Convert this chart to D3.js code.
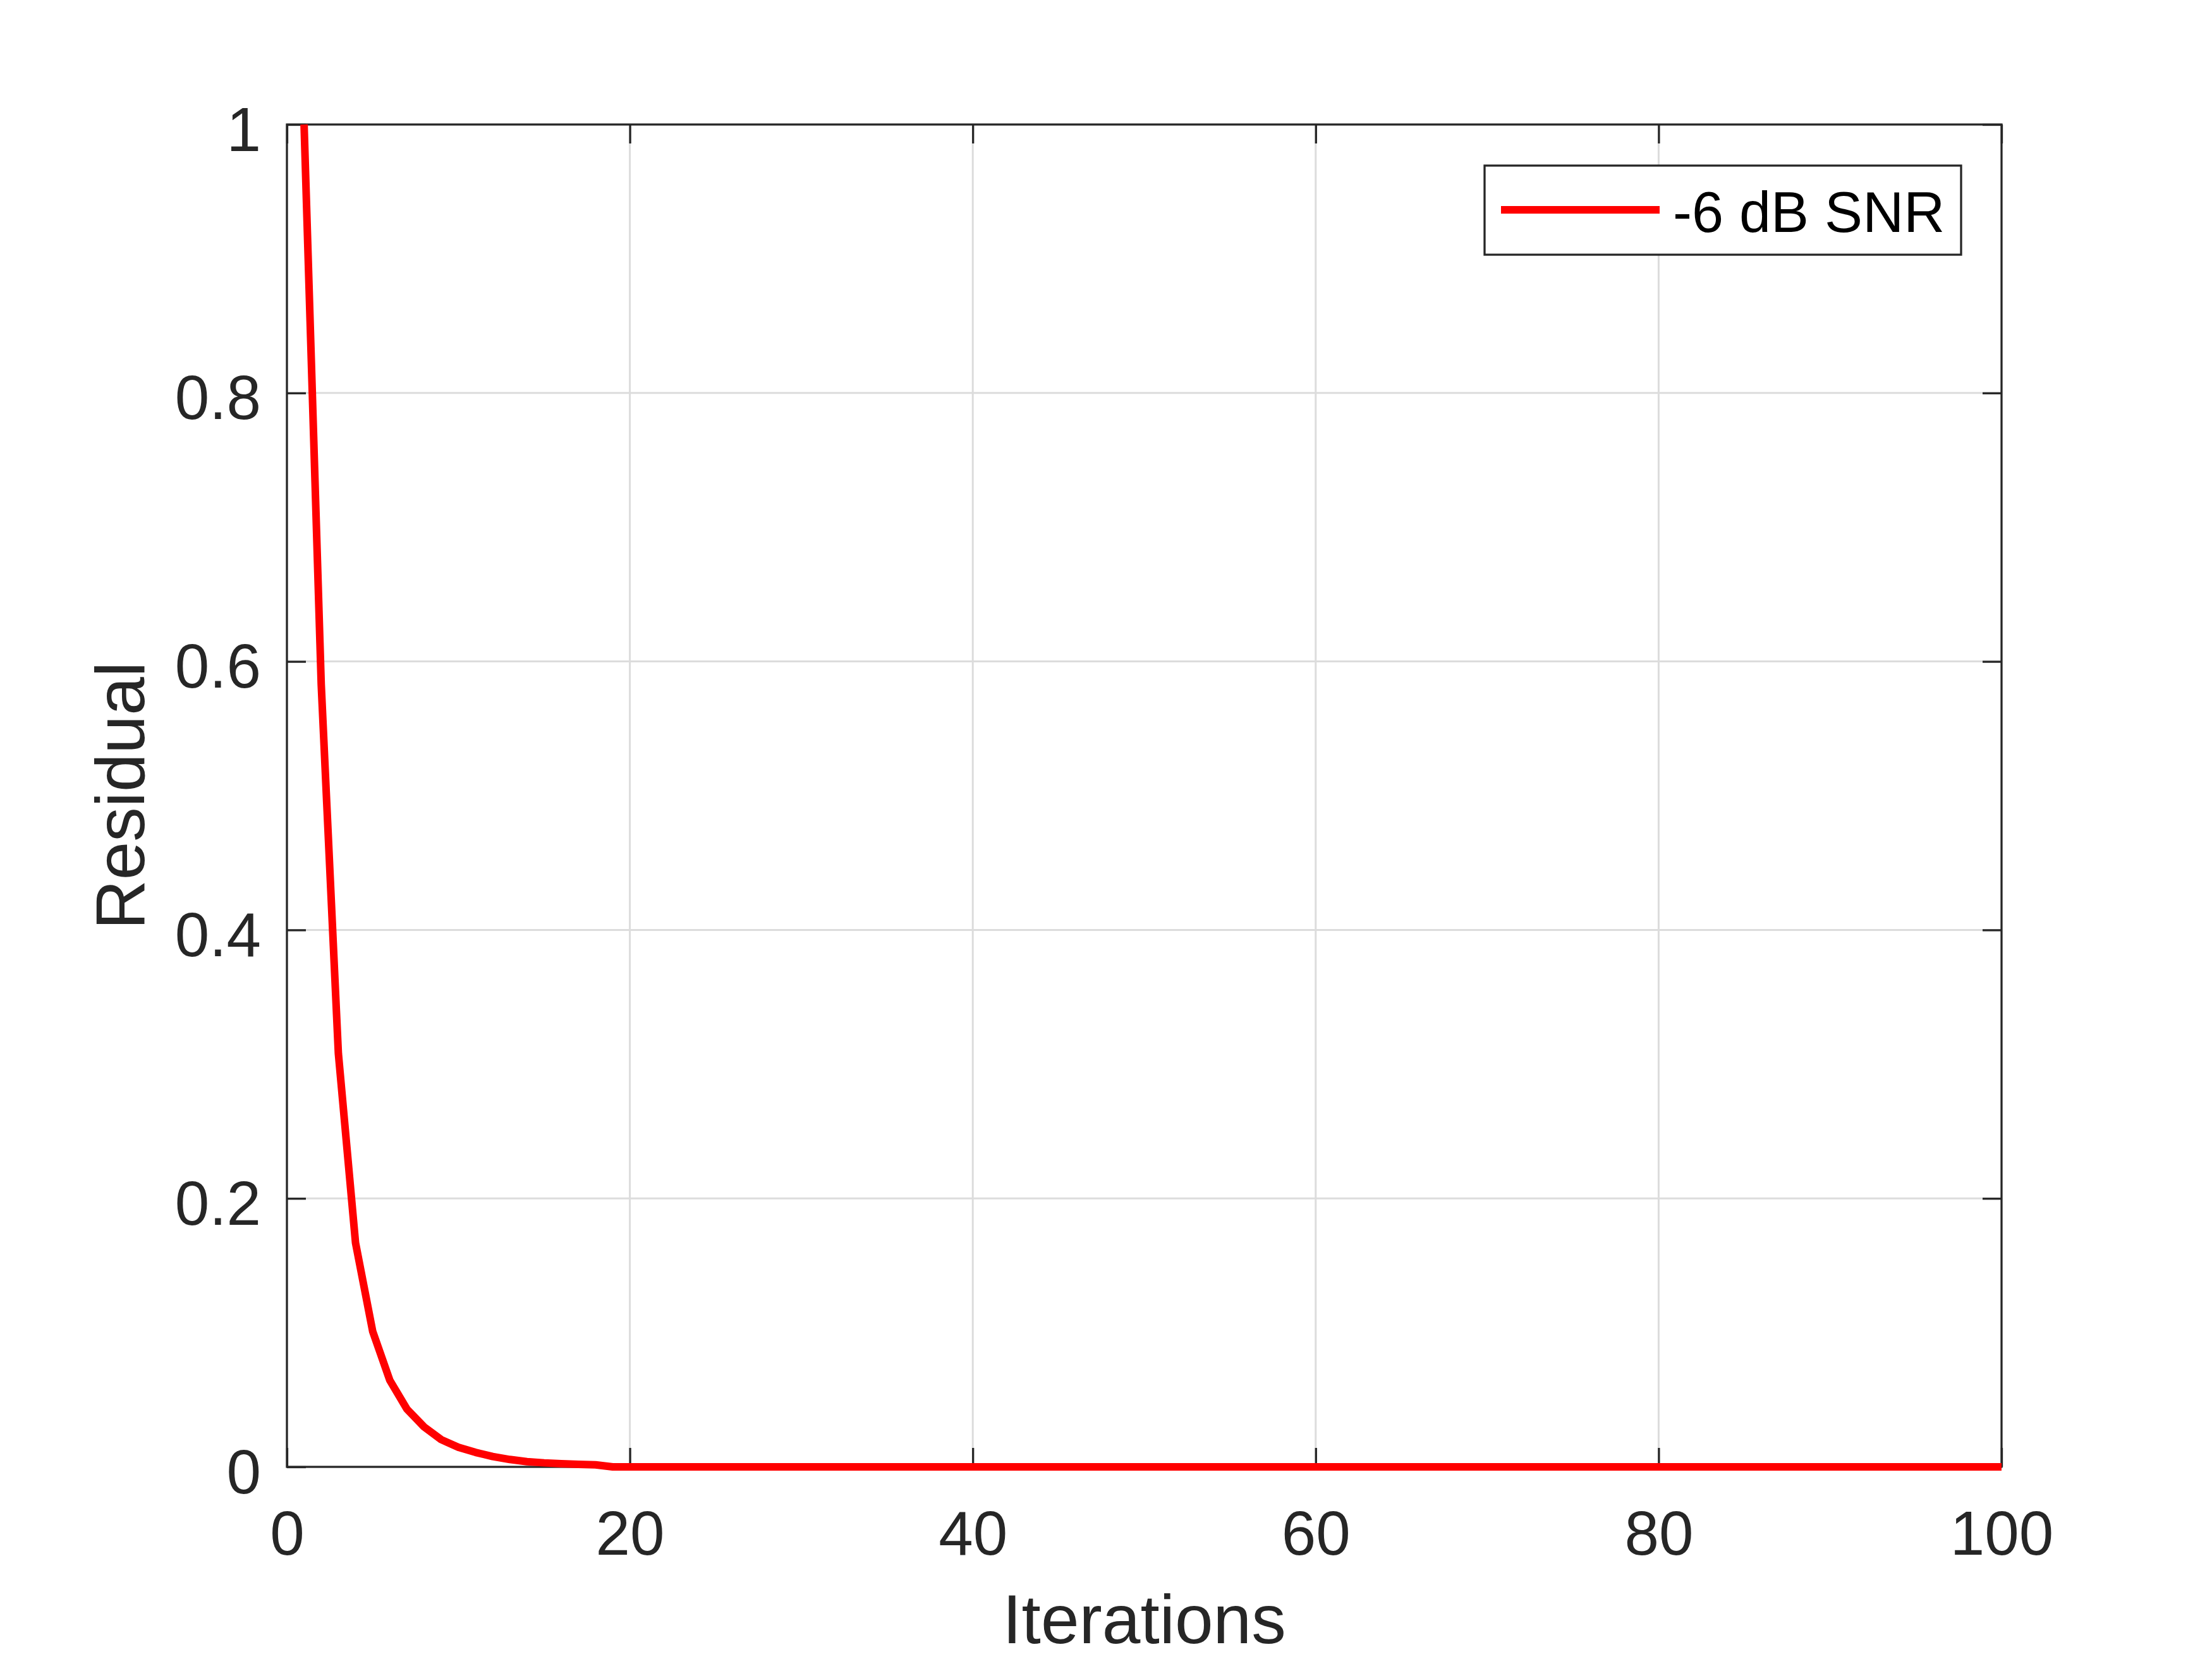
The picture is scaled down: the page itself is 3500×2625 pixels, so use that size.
<!DOCTYPE html>
<html>
<head>
<meta charset="utf-8">
<script src="https://cdn.jsdelivr.net/npm/d3@7"></script>
<style>
  html, body { margin: 0; padding: 0; background: #fff; }
  text { font-family: "Liberation Sans", Arial, sans-serif; }
</style>
</head>
<body>
<svg id="chart" width="3500" height="2625"></svg>
<script>
// residual per iteration, -6 dB SNR run
const iterations = [
  1, 2, 3, 4, 5, 6, 7, 8, 9, 10, 11, 12, 13, 14, 15, 16, 17, 18, 19, 20,
  21, 22, 23, 24, 25, 26, 27, 28, 29, 30, 31, 32, 33, 34, 35, 36, 37, 38, 39, 40,
  41, 42, 43, 44, 45, 46, 47, 48, 49, 50, 51, 52, 53, 54, 55, 56, 57, 58, 59, 60,
  61, 62, 63, 64, 65, 66, 67, 68, 69, 70, 71, 72, 73, 74, 75, 76, 77, 78, 79, 80,
  81, 82, 83, 84, 85, 86, 87, 88, 89, 90, 91, 92, 93, 94, 95, 96, 97, 98, 99, 100
];
const residual = [
  1.0, 0.583, 0.308, 0.167, 0.101, 0.0645, 0.043, 0.0298, 0.0203, 0.0146,
  0.0108, 0.0077, 0.0055, 0.0039, 0.0030, 0.0024, 0.0019, 0.0015, 0, 0,
  0, 0, 0, 0, 0, 0, 0, 0, 0, 0, 0, 0, 0, 0, 0, 0, 0, 0, 0, 0,
  0, 0, 0, 0, 0, 0, 0, 0, 0, 0, 0, 0, 0, 0, 0, 0, 0, 0, 0, 0,
  0, 0, 0, 0, 0, 0, 0, 0, 0, 0, 0, 0, 0, 0, 0, 0, 0, 0, 0, 0,
  0, 0, 0, 0, 0, 0, 0, 0, 0, 0, 0, 0, 0, 0, 0, 0, 0, 0, 0, 0
];
const xTicks = [0, 20, 40, 60, 80, 100];
const yTicks = [0, 0.2, 0.4, 0.6, 0.8, 1];
const seriesName = "-6 dB SNR";

const svg = d3.select("#chart");
const ink = "#262626";

// plot box in page pixels
const boxL = 454, boxR = 3167, boxT = 197, boxB = 2321;

const x = d3.scaleLinear().domain([0, 100]).range([boxL, boxR]);
const y = d3.scaleLinear().domain([0, 1]).range([boxB, boxT]);

svg.append("rect")
   .attr("width", 3500)
   .attr("height", 2625)
   .attr("fill", "#fff");

// grid
const grid = svg.append("g").attr("stroke", "#dcdcdc").attr("stroke-width", 3);
grid.selectAll(".gx")
    .data(xTicks.slice(1, -1))
    .enter()
    .append("line")
      .attr("x1", d => x(d)).attr("x2", d => x(d))
      .attr("y1", boxT).attr("y2", boxB);
grid.selectAll(".gy")
    .data(yTicks.slice(1, -1))
    .enter()
    .append("line")
      .attr("x1", boxL).attr("x2", boxR)
      .attr("y1", d => y(d)).attr("y2", d => y(d));

// axes: ticks point inward, mirrored on top and right
// (negative inner size -> d3 spacing is just the padding)
const tickLen = 30;
const fmt = d => d3.format("~g")(d);

const bottomAxis = svg.append("g")
  .attr("transform", `translate(0,${boxB})`)
  .call(d3.axisBottom(x).tickValues(xTicks).tickSizeInner(-tickLen).tickSizeOuter(0).tickPadding(69).tickFormat(fmt));
const leftAxis = svg.append("g")
  .attr("transform", `translate(${boxL},0)`)
  .call(d3.axisLeft(y).tickValues(yTicks).tickSizeInner(-tickLen).tickSizeOuter(0).tickPadding(41).tickFormat(fmt));
const topAxis = svg.append("g")
  .attr("transform", `translate(0,${boxT})`)
  .call(d3.axisTop(x).tickValues(xTicks).tickSizeInner(-tickLen).tickSizeOuter(0).tickFormat(""));
const rightAxis = svg.append("g")
  .attr("transform", `translate(${boxR},0)`)
  .call(d3.axisRight(y).tickValues(yTicks).tickSizeInner(-tickLen).tickSizeOuter(0).tickFormat(""));

[bottomAxis, leftAxis, topAxis, rightAxis].forEach(a => {
  a.select(".domain").remove();
  a.selectAll(".tick line").attr("stroke", ink).attr("stroke-width", 3.3);
  a.selectAll("text")
   .attr("fill", ink)
   .style("font-size", "98px")
   .style("font-family", "'Liberation Sans', Arial, sans-serif");
});
bottomAxis.selectAll("text").attr("dy", "0.71em");
leftAxis.selectAll("text").attr("dy", "0.42em");

// box
svg.append("rect")
   .attr("x", boxL).attr("y", boxT)
   .attr("width", boxR - boxL).attr("height", boxB - boxT)
   .attr("fill", "none")
   .attr("stroke", ink)
   .attr("stroke-width", 3.3);

// axis labels
svg.append("text")
   .attr("x", (boxL + boxR) / 2)
   .attr("y", 2600)
   .attr("text-anchor", "middle")
   .attr("fill", ink)
   .style("font-size", "109px")
   .text("Iterations");
svg.append("text")
   .attr("transform", `translate(228,${(boxT + boxB) / 2}) rotate(-90)`)
   .attr("text-anchor", "middle")
   .attr("fill", ink)
   .style("font-size", "109px")
   .text("Residual");

// series
const line = d3.line()
  .x((d, i) => x(iterations[i]))
  .y(d => y(d));

svg.append("path")
   .datum(residual)
   .attr("d", line)
   .attr("fill", "none")
   .attr("stroke", "#ff0000")
   .attr("stroke-width", 12)
   .attr("stroke-linejoin", "round");

// legend
const legend = svg.append("g");
legend.append("rect")
      .attr("x", 2349).attr("y", 262)
      .attr("width", 3103 - 2349).attr("height", 403 - 262)
      .attr("fill", "#fff")
      .attr("stroke", ink)
      .attr("stroke-width", 3.3);
legend.append("line")
      .attr("x1", 2375).attr("x2", 2626)
      .attr("y1", 332).attr("y2", 332)
      .attr("stroke", "#ff0000")
      .attr("stroke-width", 12);
legend.append("text")
      .attr("x", 2647)
      .attr("y", 367)
      .attr("fill", "#000")
      .style("font-size", "90px")
      .text(seriesName);
</script>
</body>
</html>
